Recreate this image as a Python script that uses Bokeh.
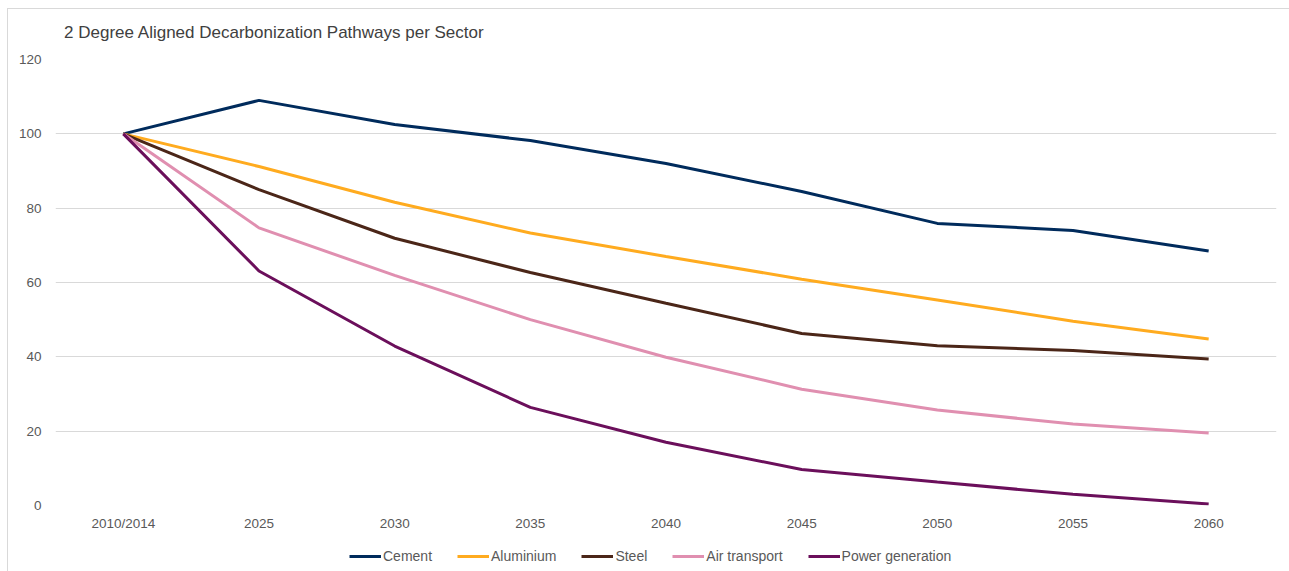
from bokeh.plotting import figure
from bokeh.layouts import column
from bokeh.models import Range1d, FactorRange, Legend, LegendItem, SingleIntervalTicker
from bokeh.core.properties import value
from bokeh.embed import file_html
from bokeh.resources import INLINE

title_text = "2 Degree Aligned Decarbonization Pathways per Sector"
categories = ["2010/2014", "2025", "2030", "2035", "2040", "2045", "2050", "2055", "2060"]
cement = [100, 109.0, 102.5, 98.2, 92.0, 84.5, 75.9, 74.0, 68.5]
aluminium = [100, 91.2, 81.6, 73.3, 67.0, 60.9, 55.3, 49.6, 44.8]
steel = [100, 85.0, 71.9, 62.7, 54.4, 46.3, 43.0, 41.7, 39.4]
air_transport = [100, 74.7, 61.9, 50.0, 39.9, 31.3, 25.7, 21.9, 19.5]
power_generation = [100, 63.1, 42.9, 26.4, 17.0, 9.7, 6.3, 3.0, 0.4]

series_names = ["Cement", "Aluminium", "Steel", "Air transport", "Power generation"]
colors = ["#002b5c", "#ffab1f", "#4b2618", "#e08fb0", "#6b0f5b"]
series = [cement, aluminium, steel, air_transport, power_generation]

FONT = "Liberation Sans"
TXT = "#595959"

# title strip
top = figure(width=1281, height=42, x_range=Range1d(0, 1281), y_range=Range1d(0, 42),
             output_backend="svg", toolbar_location=None,
             min_border_left=0, min_border_right=0, min_border_top=0, min_border_bottom=0)
top.axis.visible = False
top.grid.grid_line_color = None
top.outline_line_color = None
top.text(x=[9], y=[19], text=[title_text], text_font=value(FONT), text_font_size="17px",
         text_color="#404040", text_baseline="middle", text_align="left")

p = figure(width=1281, height=484, x_range=FactorRange(*categories), y_range=Range1d(0, 120),
           output_backend="svg", toolbar_location=None,
           min_border_left=47, min_border_right=13, min_border_top=8, min_border_bottom=30)
p.outline_line_color = None
p.background_fill_color = "white"
p.border_fill_color = "white"

p.yaxis.ticker = SingleIntervalTicker(interval=20)
p.yaxis.axis_line_color = None
p.yaxis.major_tick_line_color = None
p.yaxis.minor_tick_line_color = None
p.yaxis.major_label_text_font = FONT
p.yaxis.major_label_text_font_size = "13.5px"
p.yaxis.major_label_text_color = TXT
p.yaxis.major_label_standoff = 8

p.xaxis.axis_line_color = None
p.xaxis.major_tick_line_color = None
p.xaxis.major_label_text_font = FONT
p.xaxis.major_label_text_font_size = "13.5px"
p.xaxis.major_label_text_color = TXT
p.xaxis.major_label_standoff = 4

p.xgrid.grid_line_color = None
p.ygrid.grid_line_color = "#d9d9d9"
p.ygrid.grid_line_width = 1

for name, vals, c in zip(series_names, series, colors):
    p.line(categories, vals, line_color=c, line_width=3)

# legend strip below the chart (its lines sit outside the visible range)
leg = figure(width=1281, height=36, x_range=Range1d(0, 1281), y_range=Range1d(0, 36),
             output_backend="svg", toolbar_location=None,
             min_border_left=0, min_border_right=0, min_border_top=0, min_border_bottom=0)
leg.axis.visible = False
leg.grid.grid_line_color = None
leg.outline_line_color = None
items = []
for name, c in zip(series_names, colors):
    r = leg.line(x=[-100, -90], y=[-100, -100], line_color=c, line_width=3)
    items.append(LegendItem(label=name, renderers=[r]))
legend = Legend(items=items, orientation="horizontal", location=(294, 5),
                label_text_font=FONT, label_text_font_size="14px", label_text_color=TXT,
                glyph_width=32, label_standoff=2, spacing=25, padding=4, margin=0,
                border_line_color=None, background_fill_alpha=0)
leg.add_layout(legend, "center")

layout = column(top, p, leg, spacing=0)
layout.margin = (8, 0, 0, 7)
layout.styles = {"border-left": "1px solid #d9d9d9", "border-top": "1px solid #d9d9d9"}

open("out.html", "w").write(file_html(layout, INLINE))
